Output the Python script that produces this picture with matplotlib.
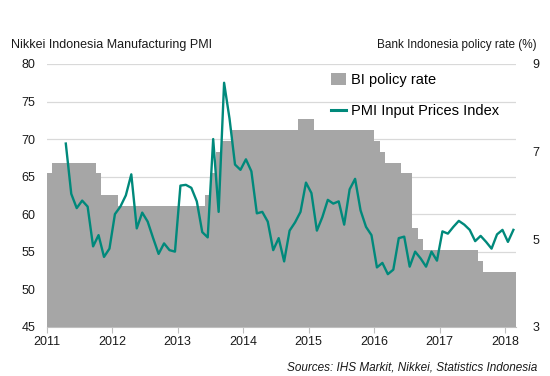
import matplotlib
matplotlib.use("Agg")
import numpy as np
import matplotlib.pyplot as plt
from matplotlib.lines import Line2D
from matplotlib.patches import Patch

plt.rcParams["font.family"] = ["Liberation Sans", "DejaVu Sans"]

# ============================
#  Data (monthly)
# ============================
# BI policy rate, Jan 2011 - Feb 2018
rate_start = 2011.0
policy_rate = (
    [6.5] + [6.75] * 8 + [6.5] + [6.0] * 2                     # 2011
    + [6.0] + [5.75] * 11                                     # 2012
    + [5.75] * 5 + [6.0, 6.5, 7.0, 7.25, 7.25, 7.5, 7.5]      # 2013
    + [7.5] * 10 + [7.75] * 2                                 # 2014
    + [7.75] + [7.5] * 11                                     # 2015
    + [7.25, 7.0, 6.75, 6.75, 6.75, 6.5, 6.5, 5.25, 5.0, 4.75, 4.75, 4.75]  # 2016
    + [4.75] * 7 + [4.5] + [4.25] * 4                         # 2017
    + [4.25] * 2                                              # 2018
)

# PMI Input Prices Index, Apr 2011 - Feb 2018
pmi_start = 2011 + 3 / 12
pmi_input = [
    69.4, 62.7, 60.8, 61.8, 61.0, 55.7, 57.2, 54.3, 55.4,                  # 2011
    60.0, 61.0, 62.5, 65.3, 58.1, 60.2, 59.0, 56.8, 54.7, 56.1, 55.2, 55.0,  # 2012
    63.8, 63.9, 63.5, 61.7, 57.6, 56.9, 70.0, 60.3, 77.5, 72.7, 66.6, 65.9,  # 2013
    67.3, 65.7, 60.1, 60.3, 59.0, 55.2, 56.8, 53.7, 57.8, 58.9, 60.3, 64.2,  # 2014
    62.8, 57.8, 59.6, 61.9, 61.4, 61.7, 58.6, 63.3, 64.7, 60.5, 58.3, 57.2,  # 2015
    52.9, 53.5, 52.0, 52.6, 56.8, 57.0, 53.0, 55.0, 54.1, 53.0, 55.0, 53.8,  # 2016
    57.7, 57.4, 58.3, 59.1, 58.6, 57.9, 56.4, 57.1, 56.3, 55.4, 57.3, 57.9,  # 2017
    56.3, 57.9,                                                             # 2018
]

year_ticks = list(range(2011, 2019))
pmi_ticks = [45, 50, 55, 60, 65, 70, 75, 80]
rate_ticks = [3, 5, 7, 9]

# month positions: bars span the month, line points sit mid-month
rate_x = rate_start + np.arange(len(policy_rate)) / 12
pmi_x = pmi_start + (np.arange(len(pmi_input)) + 0.5) / 12

BAR_COL = "#a6a6a6"
LINE_COL = "#00897b"
GRID_COL = "#d9d9d9"
TXT = "#1a1a1a"

# ============================
#  Figure
# ============================
fig = plt.figure(figsize=(5.5, 3.76), dpi=100)
ax1 = fig.add_axes([0.0849, 0.1311, 0.8535, 0.6987])
ax2 = ax1.twinx()   # policy rate bars
ax3 = ax1.twinx()   # PMI line on top

x_max = rate_start + len(policy_rate) / 12

# grid on base axes
ax1.set_xlim(2011, x_max)
ax1.set_ylim(45, 80)
ax1.set_yticks(pmi_ticks)
ax1.yaxis.grid(True, color=GRID_COL, linewidth=0.9)
ax1.set_axisbelow(True)

# bars
ax2.bar(rate_x, policy_rate, width=1 / 12, align="edge", color=BAR_COL,
        linewidth=0, zorder=1)
ax2.set_ylim(3, 9)
ax2.set_yticks(rate_ticks)
ax2.set_xlim(2011, x_max)

# line
ax3.plot(pmi_x, pmi_input, color=LINE_COL, linewidth=1.7, zorder=3)
ax3.set_ylim(45, 80)
ax3.set_xlim(2011, x_max)
ax3.axis("off")

for ax in (ax1, ax2, ax3):
    for side in ("top", "left", "right"):
        ax.spines[side].set_visible(False)
ax2.spines["bottom"].set_visible(False)
ax3.patch.set_visible(False)
ax2.patch.set_visible(False)

ax1.spines["bottom"].set_color("#bfbfbf")
ax1.set_xticks(year_ticks)
ax1.set_xticklabels([str(y) for y in year_ticks])
ax1.tick_params(axis="x", length=4, color="#bfbfbf", labelsize=9,
                labelcolor=TXT, pad=3)
ax1.tick_params(axis="y", length=0, labelsize=9, labelcolor=TXT, pad=8)
ax2.tick_params(axis="y", length=0, labelsize=9, labelcolor=TXT, pad=12)

# titles for axes
fig.text(11 / 550, 1 - 45 / 376, "Nikkei Indonesia Manufacturing PMI",
         fontsize=9, color=TXT, ha="left", va="center")
fig.text(537 / 550, 1 - 45 / 376, "Bank Indonesia policy rate (%)",
         fontsize=8.5, color=TXT, ha="right", va="center")
fig.text(537 / 550, 1 - 367 / 376,
         "Sources: IHS Markit, Nikkei, Statistics Indonesia",
         fontsize=8.5, color=TXT, ha="right", va="center", style="italic")

handles = [Patch(facecolor=BAR_COL, edgecolor="none"),
           Line2D([0], [0], color=LINE_COL, linewidth=2.2)]
labels = ["BI policy rate", "PMI Input Prices Index"]
ax3.legend(handles, labels, loc="upper left",
           bbox_to_anchor=(331 / 550, 1 - 73 / 376),
           bbox_transform=fig.transFigure, frameon=False, fontsize=10.5,
           handlelength=1.0, handleheight=0.8, handletextpad=0.35,
           labelspacing=1.2, borderpad=0, borderaxespad=0)

fig.savefig("out.png", dpi=100)
